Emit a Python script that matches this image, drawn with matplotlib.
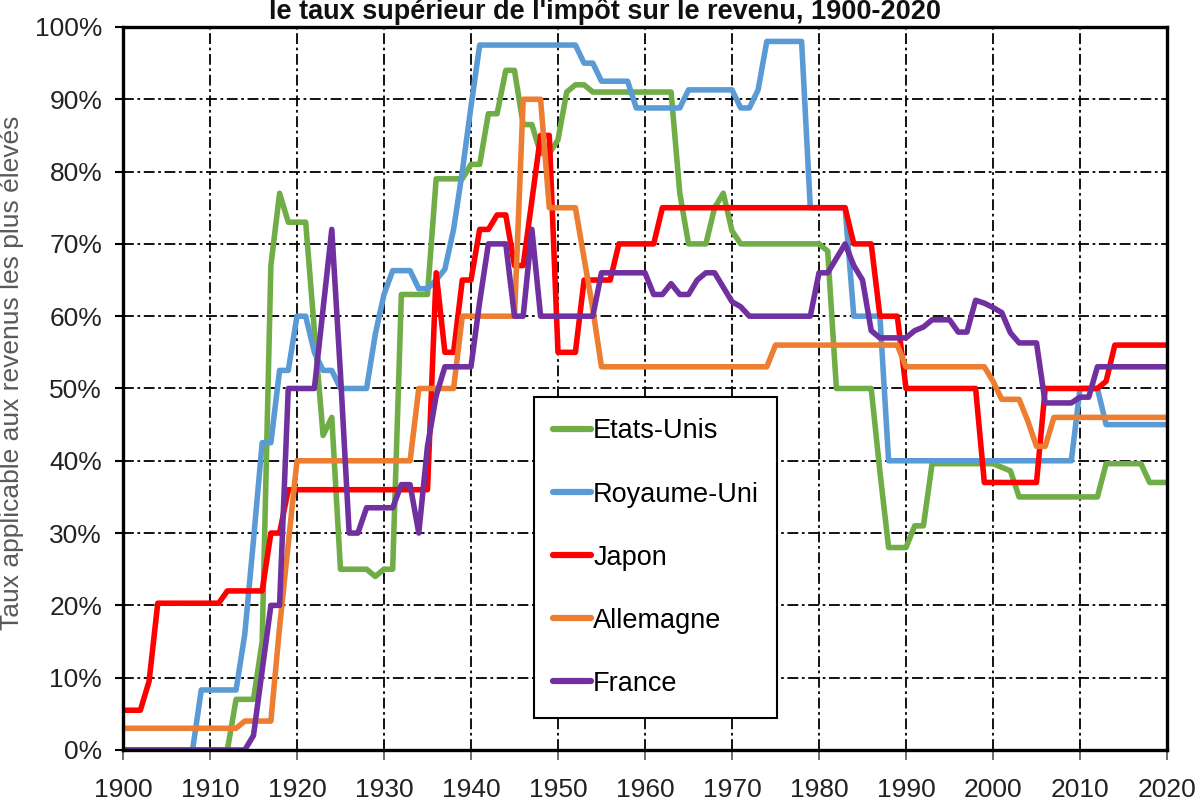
import matplotlib
matplotlib.use('Agg')
import matplotlib.pyplot as plt
from matplotlib.patches import Rectangle
from matplotlib.ticker import FuncFormatter, MultipleLocator

# Top marginal income tax rates (%)
US_YEARS = [1900, 1912, 1913, 1915, 1916, 1917, 1918, 1919, 1921, 1922, 1923, 1924, 1925, 1928, 1929,
            1930, 1931, 1932, 1935, 1936, 1939, 1940, 1941, 1942, 1943, 1944, 1945, 1946, 1947, 1948,
            1949, 1950, 1951, 1952, 1953, 1954, 1963, 1964, 1965, 1967, 1968, 1969, 1970, 1971, 1980,
            1981, 1982, 1986, 1987, 1988, 1990, 1991, 1992, 1993, 2000, 2001, 2002, 2003, 2012, 2013,
            2017, 2018, 2020]
US_RATES = [0, 0, 7, 7, 15, 67, 77, 73, 73, 58, 43.5, 46, 25, 25, 24,
            25, 25, 63, 63, 79, 79, 81, 81, 88, 88, 94, 94, 86.5, 86.5, 82.5,
            82.5, 84.4, 91, 92, 92, 91, 91, 77, 70, 70, 75, 77, 71.8, 70, 70,
            69, 50, 50, 38.5, 28, 28, 31, 31, 39.6, 39.6, 39.1, 38.6, 35, 35, 39.6,
            39.6, 37, 37]

UK_YEARS = [1900, 1908, 1909, 1913, 1914, 1915, 1916, 1917, 1918, 1919, 1920, 1921, 1922, 1923, 1924,
            1925, 1928, 1929, 1930, 1931, 1933, 1934, 1935, 1936, 1937, 1938, 1939, 1940, 1941, 1952,
            1953, 1954, 1955, 1958, 1959, 1964, 1965, 1970, 1971, 1972, 1973, 1974, 1978, 1979, 1983,
            1984, 1987, 1988, 2009, 2010, 2012, 2013, 2020]
UK_RATES = [0, 0, 8.3, 8.3, 16, 29, 42.5, 42.5, 52.5, 52.5, 60, 60, 55, 52.5, 52.5,
            50, 50, 57.5, 63, 66.3, 66.3, 63.8, 63.8, 65, 66.5, 72, 80, 89, 97.5, 97.5,
            95, 95, 92.5, 92.5, 88.8, 88.8, 91.3, 91.3, 88.8, 88.8, 91.3, 98, 98, 75, 75,
            60, 60, 40, 40, 50, 50, 45, 45]

JP_YEARS = [1900, 1902, 1903, 1904, 1911, 1912, 1916, 1917, 1918, 1919, 1935, 1936, 1937, 1938, 1939,
            1940, 1941, 1942, 1943, 1944, 1945, 1946, 1947, 1948, 1949, 1950, 1952, 1953, 1956, 1957,
            1961, 1962, 1983, 1984, 1986, 1987, 1989, 1990, 1998, 1999, 2005, 2006, 2012, 2013, 2014,
            2020]
JP_RATES = [5.5, 5.5, 9.5, 20.3, 20.3, 22, 22, 30, 30, 36, 36, 66, 55, 55, 65,
            65, 72, 72, 74, 74, 67, 67, 76, 85, 85, 55, 55, 65, 65, 70,
            70, 75, 75, 70, 70, 60, 60, 50, 50, 37, 37, 50, 50, 51, 56,
            56]

DE_YEARS = [1900, 1913, 1914, 1917, 1918, 1919, 1920, 1933, 1934, 1938, 1939, 1945, 1946, 1948, 1949,
            1952, 1953, 1954, 1955, 1974, 1975, 1989, 1990, 1999, 2000, 2001, 2003, 2004, 2005, 2006,
            2007, 2020]
DE_RATES = [3, 3, 4, 4, 17, 28.5, 40, 40, 50, 50, 60, 60, 90, 90, 75,
            75, 68, 61, 53, 53, 56, 56, 53, 53, 51, 48.5, 48.5, 45.5, 42, 42,
            46, 46]

FR_YEARS = [1900, 1914, 1915, 1916, 1917, 1918, 1919, 1922, 1923, 1924, 1925, 1926, 1927, 1928, 1931,
            1932, 1933, 1934, 1935, 1936, 1937, 1940, 1941, 1942, 1944, 1945, 1946, 1947, 1948, 1954,
            1955, 1960, 1961, 1962, 1963, 1964, 1965, 1966, 1967, 1968, 1969, 1970, 1971, 1972, 1979,
            1980, 1981, 1982, 1983, 1984, 1985, 1986, 1987, 1989, 1990, 1991, 1992, 1993, 1995, 1996,
            1997, 1998, 1999, 2000, 2001, 2002, 2003, 2005, 2006, 2009, 2010, 2011, 2012, 2020]
FR_RATES = [0, 0, 2, 11, 20, 20, 50, 50, 61, 72, 52, 30, 30, 33.5, 33.5,
            36.7, 36.7, 30, 42, 49, 53, 53, 62, 70, 70, 60, 60, 72, 60, 60,
            66, 66, 63, 63, 64.5, 63, 63, 65, 66, 66, 64, 62, 61.3, 60, 60,
            66, 66, 68, 70, 67, 65, 58, 57, 57, 57, 58, 58.5, 59.5, 59.5, 57.8,
            57.8, 62.2, 61.8, 61.2, 60.5, 57.7, 56.3, 56.3, 48, 48, 48.8, 48.8, 53, 53]

SERIES = [
    ('Etats-Unis', US_YEARS, US_RATES, '#70AD47'),
    ('Royaume-Uni', UK_YEARS, UK_RATES, '#5B9BD5'),
    ('Japon', JP_YEARS, JP_RATES, '#FF0000'),
    ('Allemagne', DE_YEARS, DE_RATES, '#ED7D31'),
    ('France', FR_YEARS, FR_RATES, '#7030A0'),
]

TITLE = "le taux supérieur de l'impôt sur le revenu, 1900-2020"
YLABEL = 'Taux applicable aux revenus les plus élevés'

plt.rcParams['font.family'] = ['Liberation Sans', 'DejaVu Sans']

fig = plt.figure(figsize=(12.02, 8.10), dpi=100)
ax = fig.add_axes([0.1023, 0.0741, 0.8686, 0.8926])

for name, years, rates, color in SERIES:
    ax.plot(years, rates, color=color, lw=4.0, label=name,
            solid_joinstyle='round', solid_capstyle='round', zorder=3)

ax.set_xlim(1900, 2020)
ax.set_ylim(0, 100)
ax.xaxis.set_major_locator(MultipleLocator(10))
ax.yaxis.set_major_locator(MultipleLocator(10))
ax.yaxis.set_major_formatter(FuncFormatter(lambda v, p: f'{v:.0f}%'))

ax.grid(True, color='black', lw=1.3, linestyle=(0, (6, 2, 1.5, 2)), zorder=1)
ax.set_axisbelow(True)
for sp in ax.spines.values():
    sp.set_linewidth(2.4)
    sp.set_color('black')
    sp.set_zorder(6)

ax.tick_params(axis='x', direction='out', length=7, width=1.2, color='#555555',
               labelsize=19, labelcolor='#222222', pad=13)
ax.tick_params(axis='y', direction='out', length=6, width=1.5, color='black',
               labelsize=19, labelcolor='#222222', pad=9)

ax.set_ylabel(YLABEL, fontsize=19, color='#595959')
ax.yaxis.set_label_coords(-0.095, 0.521)

# legend box
ax.add_patch(Rectangle((0.3937, 0.0443), 0.2328, 0.444, transform=ax.transAxes,
                       facecolor='white', edgecolor='black', lw=1.5, zorder=4))
leg = ax.legend(loc='upper left', bbox_to_anchor=(0.412, 0.4585), frameon=False,
                fontsize=19.5, handlelength=1.4, handletextpad=0.08,
                labelspacing=1.37, borderpad=0, borderaxespad=0)
for line in leg.get_lines():
    line.set_linewidth(4.5)
    line.set_solid_capstyle('round')
leg.set_zorder(5)

fig.text(0.503, 1 - 19 / 810, TITLE, ha='center', va='baseline',
         fontsize=19.5, fontweight='bold', color='#111111')

fig.savefig('out.png', dpi=100)
